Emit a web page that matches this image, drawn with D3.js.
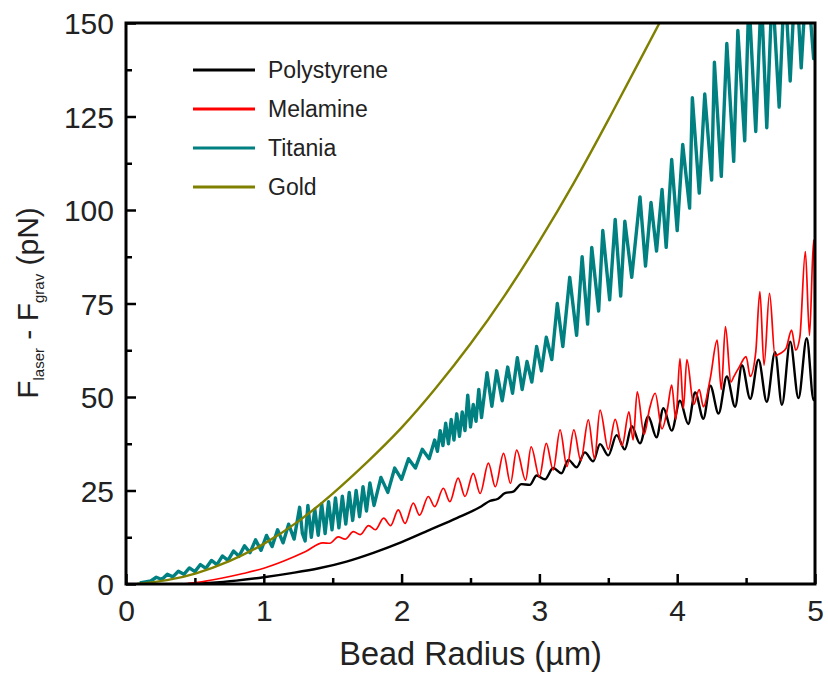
<!DOCTYPE html>
<html>
<head>
<meta charset="utf-8">
<script src="https://cdn.jsdelivr.net/npm/d3@7"></script>
<style>
  body { margin: 0; background: #fff; }
  text { font-family: "Liberation Sans", Arial, sans-serif; }
</style>
</head>
<body>
<script>
"use strict"

/* tick values of the two axes */
const xTicks = [0, 1, 2, 3, 4, 5];
const xMinor = [0.5, 1.5, 2.5, 3.5, 4.5];
const yTicks = [0, 25, 50, 75, 100, 125, 150];
const yMinor = [12.5, 37.5, 62.5, 87.5, 112.5, 137.5];

/* legend */
const seriesNames = ["Polystyrene", "Melamine", "Titania", "Gold"];
const seriesColors = ["#000000", "#ff0000", "#008080", "#808000"];

/* curves: [bead radius (um), force (pN)] */
const polystyrene = [
  [0.45, 0], [0.6, 0.3], [0.8, 0.9], [1.0, 1.8], [1.2, 2.9], [1.4, 4.2], [1.6, 6.0],
  [1.8, 8.4], [2.0, 11.2], [2.2, 14.4], [2.4, 17.6], [2.58, 20.8],
  [2.64, 22.2], [2.70, 22.8], [2.75, 24.3], [2.81, 24.7], [2.87, 26.7], [2.93, 26.5],
  [2.98, 29.0], [3.04, 28.0], [3.10, 31.0], [3.16, 29.6], [3.21, 33.2], [3.27, 31.2],
  [3.33, 35.2], [3.39, 32.8], [3.44, 37.4], [3.50, 34.4], [3.56, 39.8], [3.62, 36.0],
  [3.67, 42.2], [3.73, 37.6], [3.79, 44.8], [3.85, 39.2], [3.90, 47.0], [3.96, 41.0],
  [4.02, 49.0], [4.08, 42.8], [4.13, 51.2], [4.19, 44.2], [4.24, 53.0], [4.30, 45.6],
  [4.36, 55.5], [4.42, 47.4], [4.47, 58.5], [4.53, 49.5], [4.59, 60.0], [4.65, 48.7],
  [4.71, 62.0], [4.76, 47.9], [4.82, 64.8], [4.88, 49.7], [4.94, 65.7], [4.99, 49.2],
  [5.0, 50]
];

const melamine = [
  [0.40, 0], [0.55, 0.6], [0.70, 1.6], [0.85, 2.8], [1.00, 4.2], [1.15, 6.2], [1.30, 8.6],
  [1.43, 11.0], [1.48, 10.9], [1.54, 12.6], [1.59, 12.0], [1.65, 14.0], [1.70, 13.2],
  [1.76, 15.6], [1.81, 14.5], [1.87, 17.6], [1.92, 15.6], [1.976, 19.8], [2.025, 16.2],
  [2.085, 21.6], [2.13, 18.4], [2.194, 23.4], [2.24, 20.7], [2.303, 25.6], [2.35, 22.0],
  [2.41, 28.3], [2.46, 23.4], [2.52, 29.6], [2.57, 24.2], [2.63, 32.3], [2.68, 26.0],
  [2.74, 34.9], [2.79, 26.9], [2.835, 35.8], [2.90, 27.8], [2.94, 36.7], [3.00, 28.7],
  [3.05, 37.6], [3.10, 30.5], [3.15, 41.2], [3.20, 31.4], [3.25, 41.2], [3.30, 33.0],
  [3.355, 43.9], [3.40, 33.5], [3.44, 46.5], [3.50, 36.0], [3.55, 44.0], [3.60, 37.0],
  [3.65, 46.0], [3.68, 38.5], [3.71, 51.4], [3.76, 40.0], [3.80, 47.0], [3.84, 51.0],
  [3.89, 41.5], [3.93, 47.0], [3.96, 53.2], [3.99, 44.0], [4.02, 60.3], [4.045, 47.0],
  [4.07, 60.0], [4.12, 48.0], [4.16, 52.0], [4.19, 47.4], [4.24, 55.0], [4.29, 65.2],
  [4.32, 52.0], [4.35, 68.8], [4.39, 54.0], [4.41, 55.4], [4.45, 58.0], [4.50, 60.8],
  [4.53, 55.5], [4.57, 62.0], [4.60, 78.2], [4.63, 58.5], [4.67, 77.7], [4.71, 61.0],
  [4.75, 61.7], [4.79, 63.0], [4.83, 67.9], [4.86, 62.5], [4.89, 66.0], [4.93, 88.9],
  [4.96, 66.5], [4.99, 92.0], [5.0, 70]
];

const titania = [
  [0.10, 0.3], [0.18, 0.8], [0.22, 1.8], [0.26, 1.2], [0.30, 2.6], [0.34, 1.9], [0.38, 3.4],
  [0.42, 2.6], [0.46, 4.3], [0.50, 3.3], [0.54, 5.2], [0.58, 4.2], [0.62, 6.3], [0.66, 5.2],
  [0.70, 7.5], [0.74, 6.3], [0.78, 8.8], [0.82, 7.4], [0.86, 10.2], [0.90, 8.4], [0.94, 11.8],
  [0.98, 9.0], [1.02, 13.0], [1.06, 10.0], [1.10, 14.5], [1.14, 11.0], [1.18, 16.0],
  [1.22, 12.0], [1.26, 20.5], [1.28, 13.5], [1.30, 11.5], [1.32, 21.0], [1.345, 12.5],
  [1.37, 20.0], [1.395, 13.0], [1.42, 21.5], [1.445, 13.5], [1.47, 22.0], [1.495, 14.5],
  [1.52, 23.0], [1.545, 15.0], [1.57, 23.5], [1.595, 16.0], [1.62, 24.5], [1.645, 17.0],
  [1.67, 25.0], [1.695, 18.0], [1.72, 26.0], [1.745, 19.5], [1.77, 27.0], [1.80, 21.0],
  [1.85, 28.5], [1.90, 24.5], [1.95, 31.0], [2.00, 28.0], [2.05, 33.5], [2.10, 31.0],
  [2.15, 36.0], [2.20, 33.5], [2.24, 38.5], [2.26, 35.5], [2.28, 41.0], [2.30, 37.0],
  [2.32, 43.0], [2.34, 37.5], [2.36, 44.0], [2.38, 38.5], [2.40, 45.5], [2.42, 39.5],
  [2.44, 46.0], [2.46, 41.0], [2.48, 50.5], [2.50, 42.0], [2.52, 48.0], [2.54, 43.5],
  [2.56, 52.0], [2.58, 44.5], [2.62, 56.5], [2.655, 47.5], [2.69, 57.0], [2.73, 49.0],
  [2.77, 58.0], [2.805, 51.0], [2.84, 60.5], [2.875, 52.0], [2.91, 59.5], [2.945, 54.0],
  [2.98, 63.5], [3.015, 57.0], [3.05, 66.0], [3.09, 60.0], [3.13, 75.0], [3.17, 63.5],
  [3.22, 82.0], [3.27, 66.5], [3.31, 87.5], [3.35, 69.5], [3.38, 90.0], [3.43, 73.0],
  [3.46, 94.5], [3.51, 76.0], [3.55, 97.5], [3.59, 77.0], [3.62, 97.0], [3.67, 82.0],
  [3.73, 103.5], [3.77, 85.0], [3.81, 102.0], [3.85, 89.0], [3.89, 105.5], [3.92, 90.0],
  [3.96, 113.5], [4.00, 94.5], [4.04, 117.5], [4.09, 100.5], [4.11, 130.0], [4.16, 104.5],
  [4.20, 131.0], [4.25, 108.0], [4.27, 139.5], [4.32, 109.0], [4.36, 144.5], [4.41, 113.0],
  [4.44, 148.0], [4.49, 118.5], [4.52, 157.0], [4.57, 121.0], [4.61, 158.0], [4.65, 122.0],
  [4.69, 160.0], [4.74, 127.5], [4.78, 162.0], [4.82, 134.5], [4.86, 165.0], [4.90, 138.0],
  [4.94, 164.0], [4.99, 140.5], [5.0, 142.0]
];

const gold = [
  [0.08, 0], [0.3, 0.9], [0.5, 2.6], [0.75, 5.9], [1.0, 10.5], [1.25, 16.5], [1.5, 24.0],
  [1.75, 32.5], [2.0, 41.5], [2.25, 52.3], [2.5, 64.0], [2.75, 77.0], [3.0, 91.5],
  [3.25, 107.0], [3.5, 124.0], [3.75, 141.5], [3.9, 152.0]
];

const series = [polystyrene, melamine, titania, gold];

/* plot box */
const box = { left: 126, right: 815, top: 23, bottom: 584 };

const x = d3.scaleLinear().domain([0, 5]).range([box.left, box.right]);
const y = d3.scaleLinear().domain([0, 150]).range([box.bottom, box.top]);

const svg = d3.select("body")
    .append("svg")
    .attr("width", 828)
    .attr("height", 675);

svg.append("clipPath")
    .attr("id", "plotClip")
    .append("rect")
    .attr("x", box.left)
    .attr("y", box.top)
    .attr("width", box.right - box.left)
    .attr("height", box.bottom - box.top);

/* curves: black, red, teal, gold (gold ends on top) */
const widths = [2.4, 1.7, 3.4, 2.4];
const curves = [d3.curveMonotoneX, d3.curveMonotoneX, d3.curveLinear, d3.curveBasis];

const plot = svg.append("g").attr("clip-path", "url(#plotClip)");
series.forEach(function (data, i) {
    const line = d3.line()
        .x(function (d) { return x(d[0]) })
        .y(function (d) { return y(d[1]) })
        .curve(curves[i]);
    plot.append("path")
        .datum(data)
        .attr("fill", "none")
        .attr("stroke", seriesColors[i])
        .attr("stroke-width", widths[i])
        .attr("stroke-linejoin", "round")
        .attr("d", line);
});

/* axes with inward ticks */
const xAxis = svg.append("g")
    .attr("transform", "translate(0," + box.bottom + ")")
    .call(d3.axisBottom(x).tickValues(xTicks).tickSize(-10).tickPadding(14)
        .tickFormat(d3.format("d")));
svg.append("g")
    .attr("transform", "translate(0," + box.bottom + ")")
    .call(d3.axisBottom(x).tickValues(xMinor).tickSize(-6).tickFormat(""));

const yAxis = svg.append("g")
    .attr("transform", "translate(" + box.left + ",0)")
    .call(d3.axisLeft(y).tickValues(yTicks).tickSize(-10).tickPadding(12)
        .tickFormat(d3.format("d")));
svg.append("g")
    .attr("transform", "translate(" + box.left + ",0)")
    .call(d3.axisLeft(y).tickValues(yMinor).tickSize(-6).tickFormat(""));

svg.selectAll(".domain").remove();
svg.selectAll(".tick line").attr("stroke", "#000").attr("stroke-width", 2.5);
svg.selectAll(".tick text")
    .attr("fill", "#222")
    .style("font-size", "30px")
    .style("font-family", "'Liberation Sans', Arial, sans-serif");
xAxis.selectAll(".tick text").attr("dy", "0.75em");
yAxis.selectAll(".tick text").attr("dy", "0.36em");

/* frame */
svg.append("rect")
    .attr("x", box.left)
    .attr("y", box.top)
    .attr("width", box.right - box.left)
    .attr("height", box.bottom - box.top)
    .attr("fill", "none")
    .attr("stroke", "#000")
    .attr("stroke-width", 3);

/* axis titles */
svg.append("text")
    .attr("x", (box.left + box.right) / 2)
    .attr("y", 665)
    .attr("text-anchor", "middle")
    .attr("fill", "#222")
    .style("font-size", "32.5px")
    .text("Bead Radius (\u00b5m)");

const yTitle = svg.append("text")
    .attr("transform", "translate(38," + 303 + ") rotate(-90)")
    .attr("text-anchor", "middle")
    .attr("fill", "#222")
    .style("font-size", "30px");
yTitle.append("tspan").text("F");
yTitle.append("tspan").attr("dy", 6).style("font-size", "15px").text("laser");
yTitle.append("tspan").attr("dy", -6).text(" - F");
yTitle.append("tspan").attr("dy", 6).style("font-size", "15px").text("grav");
yTitle.append("tspan").attr("dy", -6).text(" (pN)");

/* legend */
const legend = svg.append("g");
seriesNames.forEach(function (name, i) {
    const ly = 70 + i * 39;
    legend.append("line")
        .attr("x1", 193).attr("x2", 255)
        .attr("y1", ly).attr("y2", ly)
        .attr("stroke", seriesColors[i])
        .attr("stroke-width", 3);
    legend.append("text")
        .attr("x", 268)
        .attr("y", ly)
        .attr("dy", "0.36em")
        .attr("fill", "#222")
        .style("font-size", "23px")
        .text(name);
});
</script>
</body>
</html>
